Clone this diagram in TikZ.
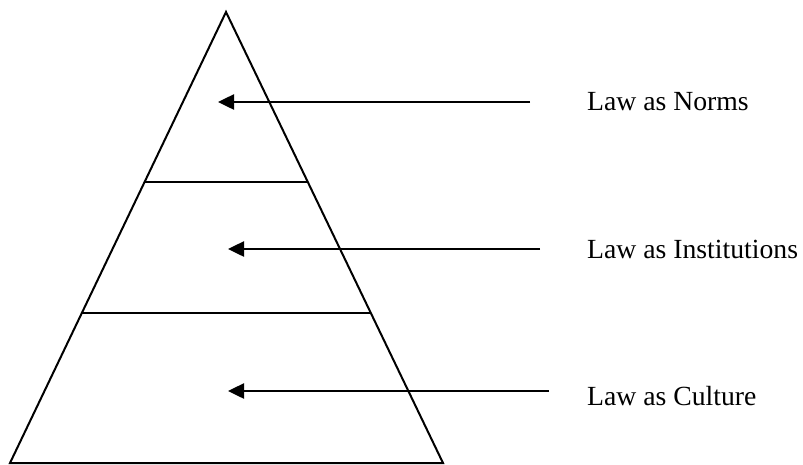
\documentclass[tikz,border=0pt]{standalone}
\usepackage{fontspec}
\setmainfont{Liberation Serif}
\usetikzlibrary{arrows.meta,calc}
\begin{document}
\begin{tikzpicture}[x=1pt, y=-1pt,
    layerline/.style={black, line width=2pt},
    pointer/.style={-{Triangle[length=16pt,width=15pt]}, line width=2.5pt},
    tierlabel/.style={anchor=base west, inner sep=0pt, font=\fontsize{27.7}{33}\selectfont}]

    \useasboundingbox (0,0) rectangle (803,464);

    % Pyramid outline
    \coordinate (apex) at (226,12);
    \coordinate (baseL) at (10,463);
    \coordinate (baseR) at (443,463);
    \draw[layerline] (apex) -- (baseR) -- (baseL) -- cycle;

    % Tier dividers
    \foreach \f/\n in {0.377/upper, 0.667/lower} {
        \coordinate (\n L) at ($(apex)!\f!(baseL)$);
        \coordinate (\n R) at ($(apex)!\f!(baseR)$);
        \draw[layerline] (\n L) -- (\n R);
    }

    % Labels with their arrows
    \foreach \n/\y/\t/\s/\b/\txt in {norms/102/218/530/110/Law as Norms,
                                     inst/249/228/540/258/Law as Institutions,
                                     cult/391/228/549/405/Law as Culture} {
        \node[tierlabel] (\n) at (587,\b) {\txt};
        \coordinate (\n-tail) at (\s,\y);
        \coordinate (\n-tip) at (\t,\y);
        \draw[pointer] (\n-tail) -- (\n-tip);
    }

\end{tikzpicture}
\end{document}
